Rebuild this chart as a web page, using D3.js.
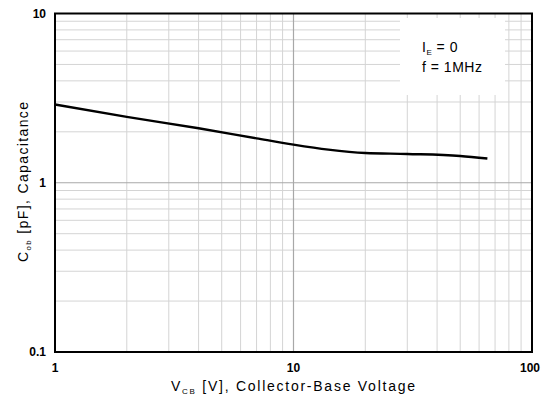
<!DOCTYPE html>
<html>
<head>
<meta charset="utf-8">
<script src="https://cdn.jsdelivr.net/npm/d3@7"></script>
<style>
  body { margin: 0; background: #fff; }
  text { font-family: "Liberation Sans", Arial, sans-serif; }
</style>
</head>
<body>
<div id="chart"></div>
<script>
(function() {
const width = 543,
      height = 401

// curve: Vcb [V] -> Cob [pF]
const vcb = [1, 2, 4, 7, 10, 14, 20, 30, 50, 65]
const cob = [2.9, 2.45, 2.1, 1.83, 1.68, 1.57, 1.50, 1.48, 1.44, 1.39]

const xTicks = [1, 10, 100]
const yTicks = [0.1, 1, 10]
const legendLines = ['= 0', 'f = 1MHz']

const margin = { left: 55, right: 11, top: 13.5, bottom: 49 }

const svg = d3.select('#chart')
  .append('svg')
  .attr('width', width)
  .attr('height', height)

const x = d3.scaleLog()
  .domain([1, 100])
  .range([margin.left, width - margin.right])

const y = d3.scaleLog()
  .domain([0.1, 10])
  .range([height - margin.bottom, margin.top])

// grid lines, minor ones every 1..9 per decade
const minorX = d3.range(0, 2).flatMap(e => d3.range(2, 10).map(m => m * Math.pow(10, e)))
const minorY = d3.range(-1, 1).flatMap(e => d3.range(2, 10).map(m => m * Math.pow(10, e)))

const grid = svg.append('g')
grid.selectAll('.vx')
  .data(minorX)
  .enter().append('line')
  .attr('x1', d => x(d)).attr('x2', d => x(d))
  .attr('y1', y(0.1)).attr('y2', y(10))
  .attr('stroke', '#d4d4d4')
  .attr('stroke-width', 1)
grid.selectAll('.hy')
  .data(minorY)
  .enter().append('line')
  .attr('y1', d => y(d)).attr('y2', d => y(d))
  .attr('x1', x(1)).attr('x2', x(100))
  .attr('stroke', '#d4d4d4')
  .attr('stroke-width', 1)
// the middle decade lines are darker
grid.append('line')
  .attr('x1', x(10)).attr('x2', x(10))
  .attr('y1', y(0.1)).attr('y2', y(10))
  .attr('stroke', '#a8a8a8')
  .attr('stroke-width', 1.2)
grid.append('line')
  .attr('y1', y(1)).attr('y2', y(1))
  .attr('x1', x(1)).attr('x2', x(100))
  .attr('stroke', '#a8a8a8')
  .attr('stroke-width', 1.2)

// white legend box cut out of the grid
svg.append('rect')
  .attr('x', 400)
  .attr('y', 18)
  .attr('width', 105)
  .attr('height', 77)
  .attr('fill', '#fff')

const legend = svg.append('text')
  .attr('x', 422)
  .attr('y', 52)
  .attr('font-size', 14)
  .attr('letter-spacing', 0.5)
  .attr('fill', '#000')
legend.append('tspan').text('I')
legend.append('tspan').attr('font-size', 8).attr('dy', 3).text('E')
legend.append('tspan').attr('dy', -3).text(' ' + legendLines[0])
svg.append('text')
  .attr('x', 422)
  .attr('y', 72)
  .attr('font-size', 14)
  .attr('letter-spacing', 0.5)
  .text(legendLines[1])

// curve
const line = d3.line()
  .x((d, i) => x(vcb[i]))
  .y(d => y(d))
  .curve(d3.curveMonotoneX)

svg.append('path')
  .datum(cob)
  .attr('d', line)
  .attr('fill', 'none')
  .attr('stroke', '#000')
  .attr('stroke-width', 2.4)

// frame
svg.append('rect')
  .attr('x', x(1))
  .attr('y', y(10))
  .attr('width', x(100) - x(1))
  .attr('height', y(0.1) - y(10))
  .attr('fill', 'none')
  .attr('stroke', '#000')
  .attr('stroke-width', 2)

// tick labels
svg.selectAll('.xt')
  .data(xTicks)
  .enter().append('text')
  .attr('x', d => x(d))
  .attr('y', height - margin.bottom + 20)
  .attr('text-anchor', 'middle')
  .attr('dx', (d, i) => i === xTicks.length - 1 ? -2 : 0)
  .attr('font-size', 12)
  .attr('font-weight', 'bold')
  .text(d => d)

svg.selectAll('.yt')
  .data(yTicks)
  .enter().append('text')
  .attr('x', margin.left - 9)
  .attr('y', d => y(d))
  .attr('dy', '0.35em')
  .attr('text-anchor', 'end')
  .attr('font-size', 12)
  .attr('font-weight', 'bold')
  .text(d => d)

// axis titles
const xt = svg.append('text')
  .attr('x', 171)
  .attr('y', 391)
  .attr('font-size', 14)
  .attr('textLength', 244)
  .attr('lengthAdjust', 'spacing')
xt.append('tspan').text('V')
xt.append('tspan').attr('font-size', 8).attr('dy', 3).text('CB')
xt.append('tspan').attr('dy', -3).text(' [V], Collector-Base Voltage')

const yt = svg.append('text')
  .attr('transform', 'translate(28,262) rotate(-90)')
  .attr('font-size', 14)
  .attr('textLength', 160)
  .attr('lengthAdjust', 'spacing')
yt.append('tspan').text('C')
yt.append('tspan').attr('font-size', 8).attr('dy', 3).text('ob')
yt.append('tspan').attr('dy', -3).text(' [pF], Capacitance')

})()
</script>
</body>
</html>
